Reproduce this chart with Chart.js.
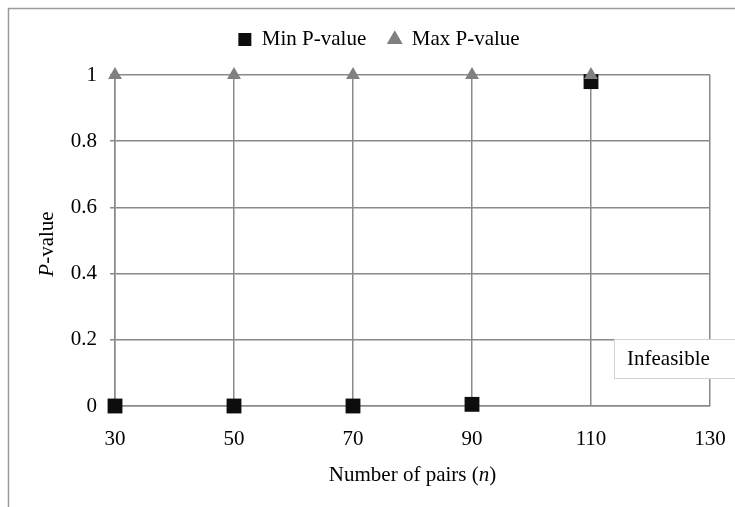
<!DOCTYPE html>
<html>
<head>
<meta charset="utf-8">
<script src="https://cdn.jsdelivr.net/npm/chart.js@4.4.1/dist/chart.umd.min.js"></script>
<style>
  html, body { margin: 0; padding: 0; background: #fff; }
  #wrap { width: 735px; height: 507px; position: relative; }
</style>
</head>
<body>
<div id="wrap"><canvas id="myChart" width="735" height="507"></canvas></div>
<script>
const pairs = [30, 50, 70, 90, 110];
const minP = [0, 0, 0, 0.005, 0.98];
const maxP = [1, 1, 1, 1, 1];
const xTicks = [30, 50, 70, 90, 110, 130];
const yTicks = [0, 0.2, 0.4, 0.6, 0.8, 1];

const serif = '"Liberation Serif", "Times New Roman", serif';
const gridGray = '#8a8a8a';
const fs = 21;

// draws text pieces side by side, some italic, centred on cx
function mixedText(c, parts, cx, cy) {
  let total = 0;
  parts.forEach(p => {
    c.font = (p[1] ? 'italic ' : '') + fs + 'px ' + serif;
    total += c.measureText(p[0]).width;
  });
  let x = cx - total / 2;
  parts.forEach(p => {
    c.font = (p[1] ? 'italic ' : '') + fs + 'px ' + serif;
    c.fillText(p[0], x, cy);
    x += c.measureText(p[0]).width;
  });
}

// frame, axis titles with italic parts, "Infeasible" note
const extras = {
  id: 'extras',
  beforeDraw(chart) {
    const c = chart.ctx;
    c.save();
    c.strokeStyle = '#9a9a9a';
    c.lineWidth = 1.5;
    c.strokeRect(8.5, 8.5, 800, 600);
    c.restore();
  },
  afterDatasetsDraw(chart) {
    const c = chart.ctx;
    const area = chart.chartArea;
    c.save();
    c.fillStyle = '#fff';
    c.fillRect(614, 339, 130, 39);
    c.strokeStyle = '#d4d4d4';
    c.lineWidth = 1;
    c.strokeRect(614.5, 339.5, 130, 39);
    c.fillStyle = '#000';
    c.font = fs + 'px ' + serif;
    c.textBaseline = 'middle';
    c.textAlign = 'left';
    c.fillText('Infeasible', 627, 359);

    mixedText(c, [['Number of pairs (', false], ['n', true], [')', false]], (area.left + area.right) / 2, 475);

    c.translate(47, 244);
    c.rotate(-Math.PI / 2);
    mixedText(c, [['P', true], ['-value', false]], 0, 0);
    c.restore();
  }
};

const ctx = document.getElementById('myChart');
new Chart(ctx, {
  type: 'scatter',
  data: {
    datasets: [{
      label: 'Min P-value',
      data: pairs.map((p, i) => ({ x: p, y: minP[i] })),
      pointStyle: 'rect',
      pointRadius: 10.5,
      backgroundColor: '#0d0d0d',
      borderColor: '#0d0d0d',
      borderWidth: 0,
      clip: false,
      order: 1
    }, {
      label: 'Max P-value',
      data: pairs.map((p, i) => ({ x: p, y: maxP[i] })),
      pointStyle: 'triangle',
      pointRadius: 8,
      backgroundColor: '#808080',
      borderColor: '#808080',
      borderWidth: 0,
      clip: false,
      order: 0
    }]
  },
  options: {
    responsive: false,
    animation: false,
    layout: { padding: { top: 7, right: 25, left: 48, bottom: 0 } },
    plugins: {
      legend: {
        position: 'top',
        labels: {
          usePointStyle: true,
          boxWidth: 13,
          boxHeight: 13,
          padding: 22,
          color: '#000',
          font: { family: serif, size: fs },
          sort: (a, b) => a.datasetIndex - b.datasetIndex
        }
      },
      // empty spacer under the legend
      subtitle: {
        display: true,
        text: '',
        weight: 500,
        font: { size: 1, lineHeight: 1 },
        padding: { top: 0, bottom: 14 }
      },
      tooltip: { enabled: false }
    },
    scales: {
      x: {
        type: 'linear',
        min: 30,
        max: 130,
        afterBuildTicks: s => { s.ticks = xTicks.map(v => ({ value: v })); },
        afterFit: s => { s.height = 101; s.paddingLeft = 0; s.paddingRight = 0; },
        grid: { color: gridGray, lineWidth: 1.5, drawTicks: false },
        border: { color: gridGray, width: 1.5 },
        ticks: { color: '#000', padding: 21, font: { family: serif, size: fs } }
      },
      y: {
        min: 0,
        max: 1,
        afterBuildTicks: s => { s.ticks = yTicks.map(v => ({ value: v })); },
        afterFit: s => { s.width = 67; s.paddingTop = 0; s.paddingBottom = 0; },
        grid: { color: gridGray, lineWidth: 1.5, tickLength: 5 },
        border: { color: gridGray, width: 1.5 },
        ticks: {
          color: '#000',
          padding: 13,
          font: { family: serif, size: fs },
          callback: v => String(v)
        }
      }
    }
  },
  plugins: [extras]
});
</script>
</body>
</html>
